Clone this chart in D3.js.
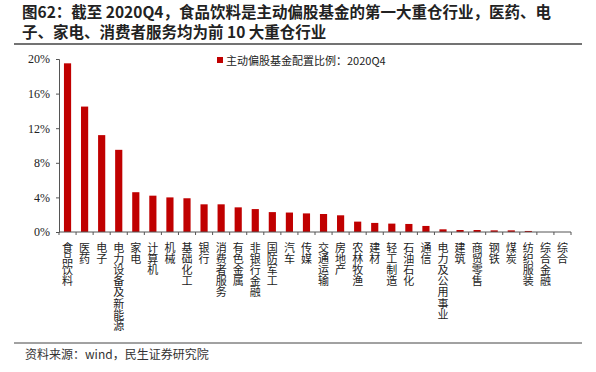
<!DOCTYPE html>
<html lang="zh">
<head>
<meta charset="UTF-8">
<title>图62</title>
<script src="https://d3js.org/d3.v7.min.js"></script>
<style>
  body { margin: 0; background: #fff; }
</style>
</head>
<body>
<script>
// industries, in chart order
const categories = ['食品饮料', '医药', '电子', '电力设备及新能源', '家电', '计算机', '机械', '基础化工',
    '银行', '消费者服务', '有色金属', '非银行金融', '国防军工', '汽车', '传媒', '交通运输', '房地产',
    '农林牧渔', '建材', '轻工制造', '石油石化', '通信', '电力及公用事业', '建筑', '商贸零售', '钢铁',
    '煤炭', '纺织服装', '综合金融', '综合'];
// 主动偏股基金配置比例 2020Q4 (%)
const values = [19.5, 14.5, 11.2, 9.5, 4.6, 4.2, 4.0, 3.9, 3.2, 3.2, 2.85, 2.65, 2.3, 2.25, 2.15,
    2.08, 1.93, 1.2, 1.05, 0.97, 0.93, 0.7, 0.31, 0.23, 0.23, 0.19, 0.19, 0.12, 0.0, 0.0];
const yTicks = [0, 4, 8, 12, 16, 20];
const seriesName = '主动偏股基金配置比例：2020Q4';
const titleLines = ['图62：截至 2020Q4，食品饮料是主动偏股基金的第一大重仓行业，医药、电',
    '子、家电、消费者服务均为前 10 大重仓行业'];
const source = '资料来源：wind，民生证券研究院';

const W = 596, H = 372;
const cjk = '"Noto Sans CJK SC", sans-serif';
const serif = '"Liberation Serif", "Times New Roman", serif';
const red = '#C00000';

const svg = d3.select('body').append('svg').attr('width', W).attr('height', H);

// title
svg.selectAll('.title')
    .data(titleLines)
    .enter().append('text')
    .attr('class', 'title')
    .attr('x', 22)
    .attr('y', (d, i) => 18 + i * 19.5)
    .style('font-family', cjk)
    .style('font-weight', 'bold')
    .style('font-size', '15.5px')
    .style('fill', '#222')
    .text(d => d);

svg.append('line').attr('x1', 14).attr('x2', 582).attr('y1', 44).attr('y2', 44)
    .style('stroke', '#444').style('stroke-width', 1.5);
svg.append('line').attr('x1', 14).attr('x2', 582).attr('y1', 343).attr('y2', 343)
    .style('stroke', '#444').style('stroke-width', 1);

svg.append('text').attr('x', 25).attr('y', 359)
    .style('font-family', cjk).style('font-size', '12px').style('fill', '#333')
    .text(source);

// scales
var x = d3.scaleBand().domain(categories).range([59, 571]).paddingInner(0.58).paddingOuter(0.29);
var y = d3.scaleLinear().domain([0, 20]).range([232, 59]);

// y axis
const yAxis = svg.append('g').attr('transform', 'translate(59,0)')
    .call(d3.axisLeft(y).tickValues(yTicks).tickFormat(d => d + '%').tickSize(3).tickPadding(6));
yAxis.selectAll('text').style('font-family', serif).style('font-size', '12px').style('fill', '#222');
yAxis.selectAll('line, path').style('stroke', '#555');

// bars
svg.selectAll('.bar')
    .data(values)
    .enter().append('rect')
    .attr('class', 'bar')
    .attr('x', (d, i) => x(categories[i]))
    .attr('width', x.bandwidth())
    .attr('y', d => y(d))
    .attr('height', d => y(0) - y(d))
    .style('fill', red);

// x axis: line + ticks between categories
const step = x.step();
const xg = svg.append('g');
xg.append('line').attr('x1', 59).attr('x2', 571).attr('y1', y(0)).attr('y2', y(0)).style('stroke', '#555');
xg.selectAll('.xt')
    .data(d3.range(categories.length + 1))
    .enter().append('line')
    .attr('x1', i => 59 + i * step).attr('x2', i => 59 + i * step)
    .attr('y1', y(0)).attr('y2', y(0) + 3)
    .style('stroke', '#555');

// vertical category labels
xg.selectAll('.xl')
    .data(categories)
    .enter().append('text')
    .attr('x', d => x(d) + x.bandwidth() / 2)
    .attr('y', 242)
    .style('writing-mode', 'vertical-rl')
    .style('font-family', cjk)
    .style('font-size', '11px')
    .style('fill', '#222')
    .style('letter-spacing', '0.2px')
    .text(d => d);

// legend
svg.append('rect').attr('x', 217).attr('y', 57).attr('width', 6).attr('height', 6).style('fill', red);
svg.append('text').attr('x', 226).attr('y', 65)
    .style('font-family', cjk).style('font-size', '11px').style('fill', '#222')
    .text(seriesName);
</script>
</body>
</html>
